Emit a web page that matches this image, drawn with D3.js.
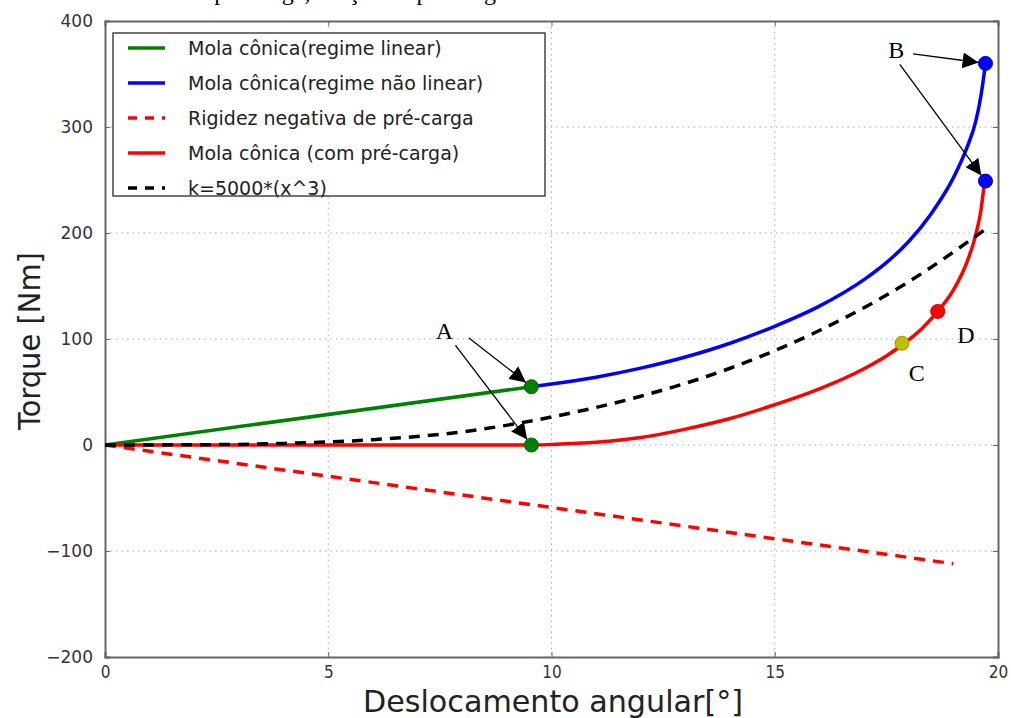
<!DOCTYPE html>
<html>
<head>
<meta charset="utf-8">
<script src="https://cdn.jsdelivr.net/npm/d3@7"></script>
<style>
  body { margin: 0; background: #fff; }
  svg { display: block; }
  .tick text { font-family: "DejaVu Sans", sans-serif; fill: #333; }
  .grid line { stroke: #b0b0b0; stroke-dasharray: 1.5, 4; }
</style>
</head>
<body>
<script>
// ---------------- data ----------------
const xTicks = [0, 5, 10, 15, 20];
const yTicks = [-200, -100, 0, 100, 200, 300, 400];

const linearPts = [[0, 0], [9.55, 55]];
const nonLinearPts = [[9.55, 55], [10, 57.5], [11, 64], [12, 72.5], [13, 83], [14, 96], [15, 112], [16, 131],
  [17, 156], [17.5, 172], [18, 192], [18.5, 218], [19, 252], [19.3, 280], [19.5, 305], [19.62, 330], [19.72, 360]];
const negStiffPts = [[0, 0], [19.0, -112]];
const preloadPts = [[0, 0], [9.55, 0], [10, 0.5], [11, 2.5], [12, 7], [13, 15], [14, 25], [15, 38], [16, 53],
  [17, 72], [17.5, 84], [17.9, 96], [18.3, 110], [18.65, 126], [19, 146], [19.3, 172], [19.5, 198], [19.62, 222], [19.7, 249]];
const cubicPts = [[0, 0], [2, 0.2], [4, 1.5], [6, 5], [8, 12.4], [10, 26.4], [12, 46], [14, 72.4],
  [16, 108], [18, 154], [19.8, 206]];

const legendLabels = ["Mola cônica(regime linear)", "Mola cônica(regime não linear)",
  "Rigidez negativa de pré-carga", "Mola cônica (com pré-carga)", "k=5000*(x^3)"];

const markers = [
  { p: [9.55, 55], c: "#008000" }, { p: [9.55, 0], c: "#008000" },
  { p: [19.72, 360], c: "#0000ff" }, { p: [19.72, 249], c: "#0000ff" },
  { p: [17.85, 96], c: "#bfbf00" }, { p: [18.65, 126], c: "#ff0000" }
];

// annotation: label position, arrow tails and targets (data coords)
const annotations = [
  { t: "A", at: [7.6, 108], arrows: [{ from: [8.15, 101], to: [9.55, 55] }, { from: [7.85, 94], to: [9.55, 0] }] },
  { t: "B", at: [17.72, 373], arrows: [{ from: [18.1, 369], to: [19.72, 360] }, { from: [17.8, 359], to: [19.72, 249] }] },
  { t: "C", at: [18.18, 68], arrows: [] },
  { t: "D", at: [19.28, 104], arrows: [] }
];

// ---------------- setup ----------------
const width = 1011, height = 718;
const svg = d3.select("body").append("svg").attr("width", width).attr("height", height);

const x = d3.scaleLinear().domain([0, 20]).range([105, 998]);
const y = d3.scaleLinear().domain([-200, 400]).range([657, 21]);

// cut-off caption at top of the page
svg.append("text")
  .attr("x", 167).attr("y", 0)
  .style("font-family", "Liberation Serif, serif").style("font-size", "24px")
  .text("com pré-carga, função de pré-carga");

// defs
const defs = svg.append("defs");
defs.append("clipPath").attr("id", "plot").append("rect")
  .attr("x", x(0)).attr("y", y(400)).attr("width", x(20) - x(0)).attr("height", y(-200) - y(400));
defs.append("marker").attr("id", "head")
  .attr("viewBox", "0 0 10 10").attr("refX", 10).attr("refY", 5)
  .attr("markerWidth", 16).attr("markerHeight", 16).attr("markerUnits", "userSpaceOnUse")
  .attr("orient", "auto")
  .append("path").attr("d", "M0,0 L10,5 L0,10 Z").attr("fill", "#000");

// ---------------- grid ----------------
svg.append("g").attr("class", "grid")
  .selectAll("line").data(xTicks.slice(1, -1)).join("line")
  .attr("x1", d => x(d)).attr("x2", d => x(d)).attr("y1", y(400)).attr("y2", y(-200));
svg.append("g").attr("class", "grid")
  .selectAll("line").data(yTicks.slice(1, -1)).join("line")
  .attr("y1", d => y(d)).attr("y2", d => y(d)).attr("x1", x(0)).attr("x2", x(20));

// ---------------- axes ----------------
const xAxis = svg.append("g").attr("transform", `translate(0,${y(-200)})`)
  .call(d3.axisBottom(x).tickValues(xTicks).tickSize(-5).tickPadding(9));
xAxis.selectAll("text").style("font-size", "17px").style("font-stretch", "condensed")
  .style("font-family", "DejaVu Sans Condensed, DejaVu Sans, sans-serif");
svg.append("g").attr("transform", `translate(0,${y(400)})`)
  .call(d3.axisTop(x).tickValues(xTicks).tickSize(-5).tickFormat(""));

const yAxis = svg.append("g").attr("transform", `translate(${x(0)},0)`)
  .call(d3.axisLeft(y).tickValues(yTicks).tickSize(-5).tickPadding(12)
    .tickFormat(d => d < 0 ? "\u2212" + Math.abs(d) : d));
yAxis.selectAll("text").style("font-size", "17px");
svg.append("g").attr("transform", `translate(${x(20)},0)`)
  .call(d3.axisRight(y).tickValues(yTicks).tickSize(-5).tickFormat(""));

svg.selectAll(".domain").attr("stroke", "#666").attr("stroke-width", 2);
svg.selectAll(".tick line").attr("stroke", "#666");

// axis labels
svg.append("text")
  .attr("x", 553).attr("y", 712).attr("text-anchor", "middle")
  .attr("textLength", 380).attr("lengthAdjust", "spacingAndGlyphs")
  .style("font-family", "DejaVu Sans, sans-serif").style("font-size", "31px").style("fill", "#222")
  .text("Deslocamento angular[°]");
svg.append("text")
  .attr("transform", `translate(40,${y(98)}) rotate(-90)`).attr("text-anchor", "middle")
  .attr("textLength", 178).attr("lengthAdjust", "spacingAndGlyphs")
  .style("font-family", "DejaVu Sans, sans-serif").style("font-size", "31px").style("fill", "#222")
  .text("Torque [Nm]");

// ---------------- lines ----------------
const line = d3.line().x(d => x(d[0])).y(d => y(d[1])).curve(d3.curveMonotoneX);
const plot = svg.append("g").attr("clip-path", "url(#plot)");

const series = [
  { pts: linearPts, c: "#008000", dash: null },
  { pts: nonLinearPts, c: "#0000ff", dash: null },
  { pts: negStiffPts, c: "#ff0000", dash: "11,8" },
  { pts: preloadPts, c: "#ff0000", dash: null },
  { pts: cubicPts, c: "#000000", dash: "11,8" }
];

series.forEach(s => {
  plot.append("path").datum(s.pts)
    .attr("d", line).attr("fill", "none")
    .attr("stroke", s.c).attr("stroke-width", 3.5)
    .attr("stroke-dasharray", s.dash);
});

plot.selectAll("circle").data(markers).join("circle")
  .attr("cx", d => x(d.p[0])).attr("cy", d => y(d.p[1])).attr("r", 7)
  .attr("fill", d => d.c).attr("stroke", d => d3.color(d.c).darker(0.6)).attr("stroke-width", 1);

// ---------------- annotations ----------------
const anno = svg.append("g");
annotations.forEach(a => {
  anno.append("text")
    .attr("x", x(a.at[0])).attr("y", y(a.at[1])).attr("dy", "0.35em").attr("text-anchor", "middle")
    .style("font-family", "Liberation Serif, serif").style("font-size", "24px")
    .text(a.t);
  a.arrows.forEach(ar => {
    const x1 = x(ar.from[0]), y1 = y(ar.from[1]);
    const x2 = x(ar.to[0]), y2 = y(ar.to[1]);
    const len = Math.hypot(x2 - x1, y2 - y1);
    const k = (len - 7) / len;
    anno.append("line")
      .attr("x1", x1).attr("y1", y1)
      .attr("x2", x1 + (x2 - x1) * k).attr("y2", y1 + (y2 - y1) * k)
      .attr("stroke", "#000").attr("stroke-width", 1.3)
      .attr("marker-end", "url(#head)");
  });
});

// ---------------- legend ----------------
const legend = svg.append("g").attr("transform", "translate(113,33)");
legend.append("rect").attr("width", 432).attr("height", 163)
  .attr("fill", "#fff").attr("stroke", "#444").attr("stroke-width", 1.5);

const items = legend.selectAll("g").data(legendLabels).join("g")
  .attr("transform", (d, i) => `translate(0,${15 + i * 35})`);
items.append("line")
  .attr("x1", 15).attr("x2", 52)
  .attr("stroke", (d, i) => series[i].c).attr("stroke-width", 3.5)
  .attr("stroke-dasharray", (d, i) => series[i].dash ? "9,8" : null);
items.append("text")
  .attr("x", 75).attr("dy", "0.35em")
  .style("font-family", "DejaVu Sans, sans-serif").style("font-size", "19px").style("fill", "#222")
  .text(d => d);
</script>
</body>
</html>
